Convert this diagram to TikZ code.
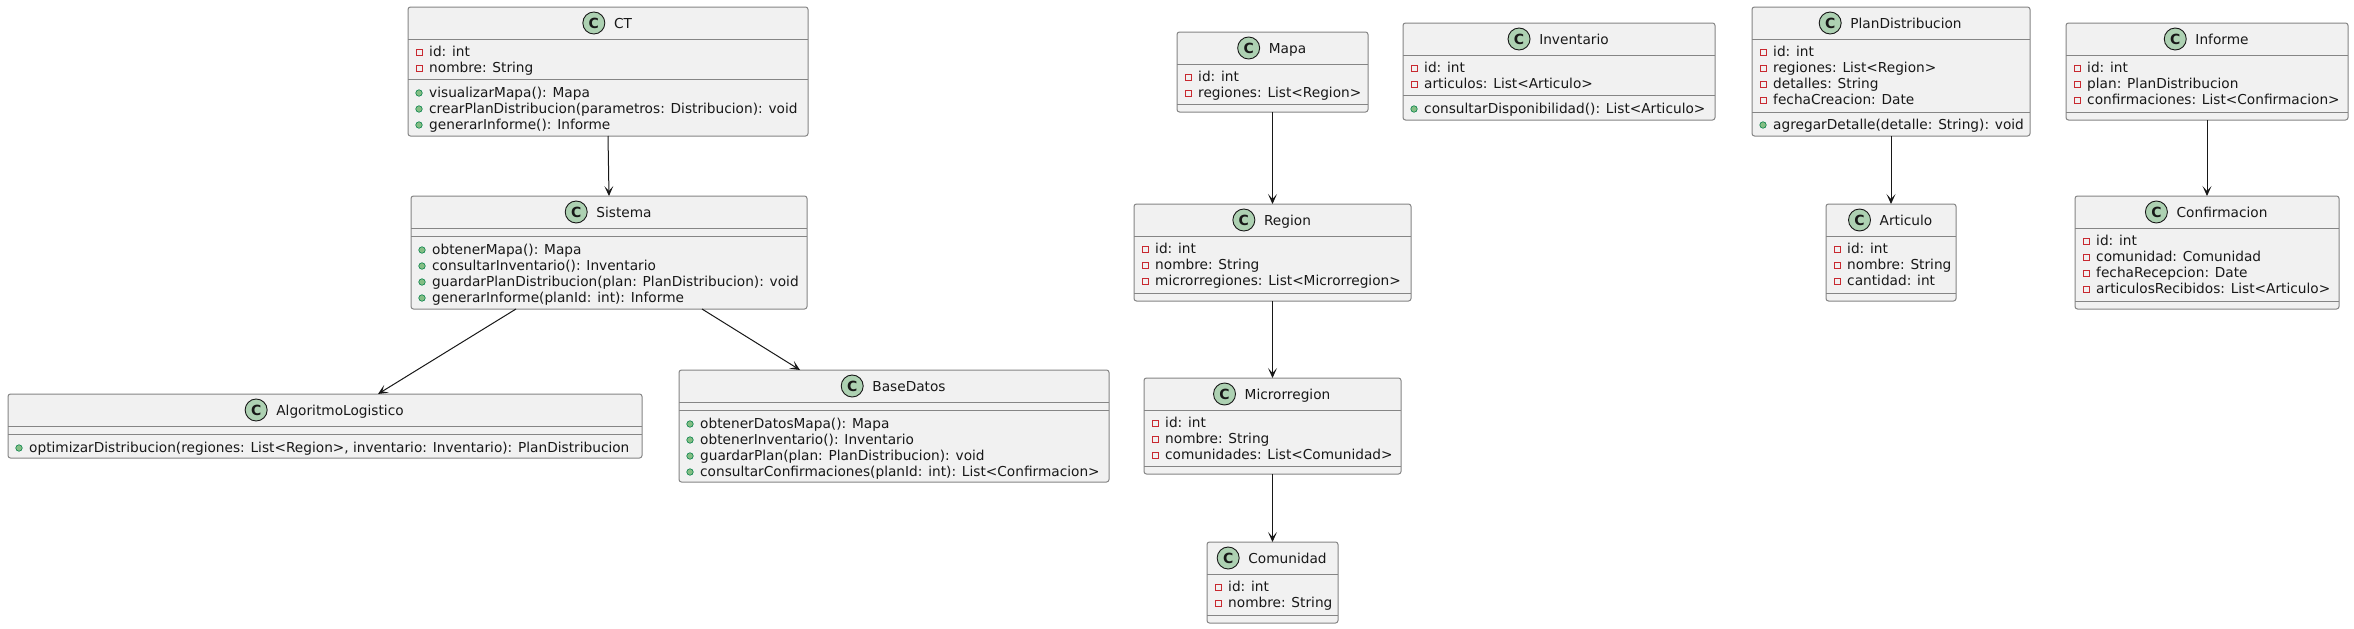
\documentclass[tikz,border=0pt]{standalone}
\usepackage{fontspec}
\setmainfont{DejaVu Sans}
\usetikzlibrary{calc,arrows.meta}
\definecolor{boxfill}{HTML}{F1F1F1}
\definecolor{boxline}{HTML}{858585}
\definecolor{ink}{HTML}{181818}
\definecolor{badgefill}{HTML}{ADD1B2}
\definecolor{privcol}{HTML}{C82930}
\definecolor{pubfill}{HTML}{84BE84}
\definecolor{publine}{HTML}{038048}
\tikzset{
  box/.style={draw=boxline, fill=boxfill, line width=1pt, rounded corners=2.5pt,
    anchor=north west, inner sep=0pt, outer sep=0pt},
  ctitle/.style={anchor=base, inner sep=0pt, text=ink},
  badge/.style={circle, minimum size=22pt, inner sep=0pt, fill=badgefill, draw=ink,
    line width=0.9pt, font=\bfseries\fontsize{14}{14}\selectfont, text=ink},
  mem/.style={anchor=base west, inner sep=0pt, text=ink},
  privsq/.style={draw=privcol, line width=0.9pt, minimum size=6pt, inner sep=0pt},
  pubdot/.style={circle, fill=pubfill, draw=publine, line width=0.6pt, minimum size=6.5pt, inner sep=0pt},
  sepl/.style={draw=boxline, line width=1pt},
  arr/.style={draw=ink, line width=1pt, -{Stealth[length=10pt,width=9pt,inset=5pt]}}
}
\newcommand\umlbox[6]{%
  \node[box, minimum width={#4-#2}, minimum height={#5-#3}] (#1) at (#2,#3) {};
  \node[ctitle] (#1-t) at ($(#1.north)+(15,21)$) {#6};
  \node[badge] (#1-c) at ($(#1-t.base west)+(-20,-5)$) {C};}
\newcommand\sepline[2]{\draw[sepl] ($(#1.north west)+(0,#2)$) -- ($(#1.north east)+(0,#2)$);}
\newcommand\privm[3]{%
  \node[privsq] at ($(#1.north west)+(11,#2+1)$) {};
  \node[mem] at ($(#1.north west)+(21,#2+5)$) {#3};}
\newcommand\pubm[3]{%
  \node[pubdot] at ($(#1.north west)+(11,#2+1)$) {};
  \node[mem] at ($(#1.north west)+(21,#2+5)$) {#3};}
\begin{document}
\begin{tikzpicture}[x=1pt,y=-1pt,font=\fontsize{13.7}{16}\selectfont]
\useasboundingbox[fill=white] (0,0) rectangle (2354,629);

% CT
\umlbox{CT}{408}{7}{808}{136}{CT}
\sepline{CT}{32}\sepline{CT}{72}
\privm{CT}{44}{id: int}
\privm{CT}{60}{nombre: String}
\pubm{CT}{85}{visualizarMapa(): Mapa}
\pubm{CT}{101}{crearPlanDistribucion(parametros: Distribucion): void}
\pubm{CT}{117}{generarInforme(): Informe}

% Sistema
\umlbox{SI}{411}{196}{807}{309}{Sistema}
\sepline{SI}{32}\sepline{SI}{40}
\pubm{SI}{53}{obtenerMapa(): Mapa}
\pubm{SI}{69}{consultarInventario(): Inventario}
\pubm{SI}{85}{guardarPlanDistribucion(plan: PlanDistribucion): void}
\pubm{SI}{101}{generarInforme(planId: int): Informe}

% AlgoritmoLogistico
\umlbox{AL}{8}{394}{642}{458}{AlgoritmoLogistico}
\sepline{AL}{32}\sepline{AL}{40}
\pubm{AL}{53}{optimizarDistribucion(regiones: List<Region>, inventario: Inventario): PlanDistribucion}

% BaseDatos
\umlbox{BD}{679}{370}{1109}{482}{BaseDatos}
\sepline{BD}{32}\sepline{BD}{40}
\pubm{BD}{53}{obtenerDatosMapa(): Mapa}
\pubm{BD}{69}{obtenerInventario(): Inventario}
\pubm{BD}{85}{guardarPlan(plan: PlanDistribucion): void}
\pubm{BD}{101}{consultarConfirmaciones(planId: int): List<Confirmacion>}

% Mapa
\umlbox{MA}{1177}{32}{1368}{112}{Mapa}
\sepline{MA}{32}\sepline{MA}{72}
\privm{MA}{44}{id: int}
\privm{MA}{60}{regiones: List<Region>}

% Region
\umlbox{RE}{1134}{204}{1411}{301}{Region}
\sepline{RE}{32}\sepline{RE}{89}
\privm{RE}{44}{id: int}
\privm{RE}{60}{nombre: String}
\privm{RE}{76}{microrregiones: List<Microrregion>}

% Microrregion
\umlbox{MI}{1144}{378}{1401}{474}{Microrregion}
\sepline{MI}{32}\sepline{MI}{88}
\privm{MI}{44}{id: int}
\privm{MI}{60}{nombre: String}
\privm{MI}{76}{comunidades: List<Comunidad>}

% Comunidad
\umlbox{CO}{1207}{542}{1338}{623}{Comunidad}
\sepline{CO}{32}\sepline{CO}{73}
\privm{CO}{44}{id: int}
\privm{CO}{60}{nombre: String}

% Inventario
\umlbox{IN}{1403}{23}{1715}{120}{Inventario}
\sepline{IN}{32}\sepline{IN}{72}
\privm{IN}{44}{id: int}
\privm{IN}{60}{articulos: List<Articulo>}
\pubm{IN}{85}{consultarDisponibilidad(): List<Articulo>}

% PlanDistribucion
\umlbox{PD}{1752}{7}{2030}{136}{PlanDistribucion}
\sepline{PD}{32}\sepline{PD}{105}
\privm{PD}{44}{id: int}
\privm{PD}{60}{regiones: List<Region>}
\privm{PD}{76}{detalles: String}
\privm{PD}{92}{fechaCreacion: Date}
\pubm{PD}{117}{agregarDetalle(detalle: String): void}

% Articulo
\umlbox{AR}{1826}{204}{1956}{301}{Articulo}
\sepline{AR}{32}\sepline{AR}{89}
\privm{AR}{44}{id: int}
\privm{AR}{60}{nombre: String}
\privm{AR}{76}{cantidad: int}

% Informe
\umlbox{IF}{2066}{23}{2348}{120}{Informe}
\sepline{IF}{32}\sepline{IF}{89}
\privm{IF}{44}{id: int}
\privm{IF}{60}{plan: PlanDistribucion}
\privm{IF}{76}{confirmaciones: List<Confirmacion>}

% Confirmacion
\umlbox{CF}{2075}{196}{2339}{309}{Confirmacion}
\sepline{CF}{32}\sepline{CF}{105}
\privm{CF}{44}{id: int}
\privm{CF}{60}{comunidad: Comunidad}
\privm{CF}{76}{fechaRecepcion: Date}
\privm{CF}{92}{articulosRecibidos: List<Articulo>}

% connectors
\draw[arr] (CT.south) -- (SI.north);
\draw[arr] ([xshift=-93pt]SI.south) -- ([xshift=53pt]AL.north);
\draw[arr] ([xshift=93pt]SI.south) -- ([xshift=-94pt]BD.north);
\draw[arr] (MA.south) -- (RE.north);
\draw[arr] (RE.south) -- (MI.north);
\draw[arr] (MI.south) -- (CO.north);
\draw[arr] (PD.south) -- (AR.north);
\draw[arr] (IF.south) -- (CF.north);
\end{tikzpicture}
\end{document}
